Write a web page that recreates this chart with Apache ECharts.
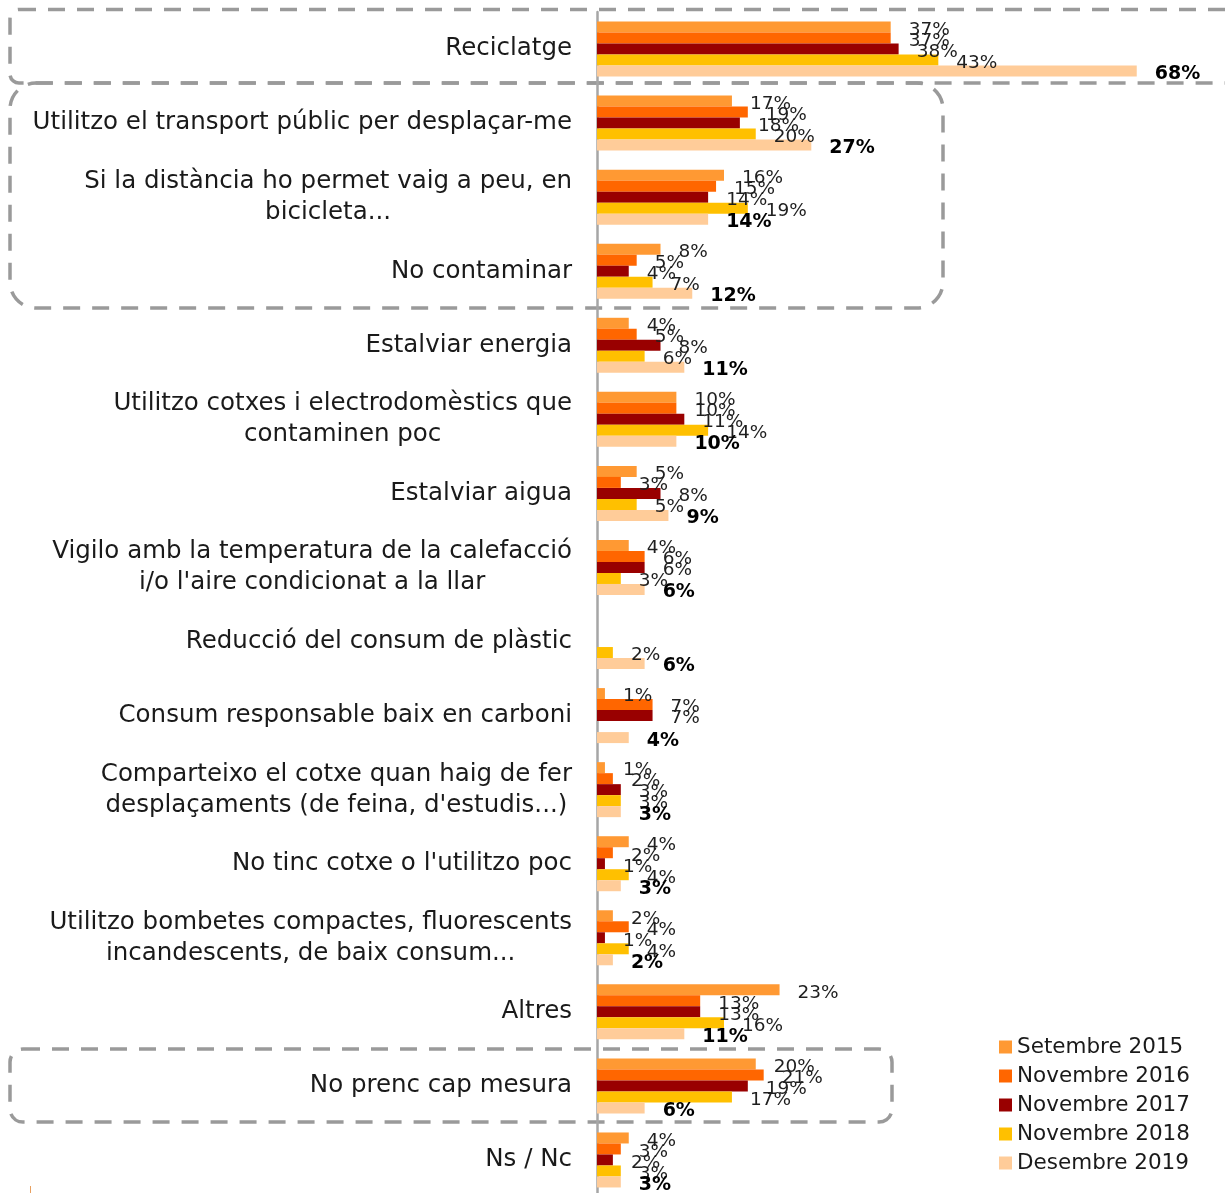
<!DOCTYPE html>
<html>
<head>
<meta charset="utf-8">
<script src="https://cdn.jsdelivr.net/npm/echarts@6/dist/echarts.min.js"></script>
<style>
  html, body { margin: 0; padding: 0; background: #fff; }
  #chart { width: 1225px; height: 1193px; }
</style>
</head>
<body>
<div id="chart"></div>
<script>
const categories = [
  "Reciclatge",
  "Utilitzo el transport públic per desplaçar-me",
  "Si la distància ho permet vaig a peu, en\nbicicleta...",
  "No contaminar",
  "Estalviar energia",
  "Utilitzo cotxes i electrodomèstics que\ncontaminen poc",
  "Estalviar aigua",
  "Vigilo amb la temperatura de la calefacció\ni/o l'aire condicionat a la llar",
  "Reducció del consum de plàstic",
  "Consum responsable baix en carboni",
  "Comparteixo el cotxe quan haig de fer\ndesplaçaments (de feina, d'estudis...)",
  "No tinc cotxe o l'utilitzo poc",
  "Utilitzo bombetes compactes, fluorescents\nincandescents, de baix consum...",
  "Altres",
  "No prenc cap mesura",
  "Ns / Nc"
];
const seriesNames = ["Setembre 2015", "Novembre 2016", "Novembre 2017", "Novembre 2018", "Desembre 2019"];
const sep2015 = [37, 17, 16, 8, 4, 10, 5, 4, null, 1, 1, 4, 2, 23, 20, 4];
const nov2016 = [37, 19, 15, 5, 5, 10, 3, 6, null, 7, 2, 2, 4, 13, 21, 3];
const nov2017 = [38, 18, 14, 4, 8, 11, 8, 6, null, 7, 3, 1, 1, 13, 19, 2];
const nov2018 = [43, 20, 19, 7, 6, 14, 5, 3, 2, null, 3, 4, 4, 16, 17, 3];
const des2019 = [68, 27, 14, 12, 11, 10, 9, 6, 6, 4, 3, 3, 2, 11, 6, 3];
const colors = ["#FF9933", "#FF6600", "#990000", "#FFC000", "#FFCC99"];

const FONT = "DejaVu Sans";
const chart = echarts.init(document.getElementById('chart'));

const allData = [sep2015, nov2016, nov2017, nov2018, des2019];
const series = allData.map((d, i) => ({
  name: seriesNames[i],
  type: 'bar',
  data: d,
  barWidth: 11,
  barGap: '0%',
  itemStyle: { color: colors[i] },
  label: {
    show: true,
    position: 'right',
    distance: 18,
    offset: [0, 3],
    fontFamily: FONT,
    fontSize: i === 4 ? 19 : 18.5,
    fontWeight: i === 4 ? 'bold' : 'normal',
    color: i === 4 ? '#000' : '#1f1f1f',
    formatter: p => p.value == null ? '' : p.value + '%'
  }
}));

const dash = { stroke: '#9a9a9a', lineWidth: 3.5, lineDash: [17, 12], fill: null };

chart.setOption({
  animation: false,
  color: colors,
  grid: { left: 597, top: 12, width: 635, height: 1185, containLabel: false, outerBoundsMode: 'none' },
  xAxis: {
    type: 'value', min: 0, max: 80,
    show: false
  },
  yAxis: {
    type: 'category',
    data: categories,
    inverse: true,
    axisLine: { lineStyle: { color: '#a6a6a6', width: 2.5 } },
    axisTick: { length: 7, lineStyle: { color: '#a6a6a6', width: 2 } },
    axisLabel: {
      margin: 25,
      fontFamily: FONT,
      fontSize: 24.5,
      color: '#1a1a1a',
      lineHeight: 31,
      formatter: v => v.split('\n').map(l => '{c|' + l + '}').join('\n'),
      rich: { c: { align: 'center', fontFamily: FONT, fontSize: 24.5, color: '#1a1a1a', lineHeight: 31 } }
    }
  },
  legend: {
    orient: 'vertical',
    left: 999,
    top: 1036,
    padding: 0,
    itemWidth: 13,
    itemHeight: 13,
    itemGap: 7,
    icon: 'rect',
    data: seriesNames,
    textStyle: { fontFamily: FONT, fontSize: 21.5, color: '#1a1a1a', lineHeight: 22 }
  },
  graphic: [
    { type: 'rect', silent: true, shape: { x: 10, y: 9.5, width: 1240, height: 73.5, r: 9 }, style: dash },
    { type: 'rect', silent: true, shape: { x: 10, y: 83, width: 933, height: 225, r: 26 }, style: dash },
    { type: 'rect', silent: true, shape: { x: 10, y: 1049, width: 882, height: 73, r: 13 }, style: dash },
    { type: 'line', silent: true, shape: { x1: 30.5, y1: 1186, x2: 30.5, y2: 1193 }, style: { stroke: '#E8A060', lineWidth: 1 } }
  ],
  series: series
});
</script>
</body>
</html>
